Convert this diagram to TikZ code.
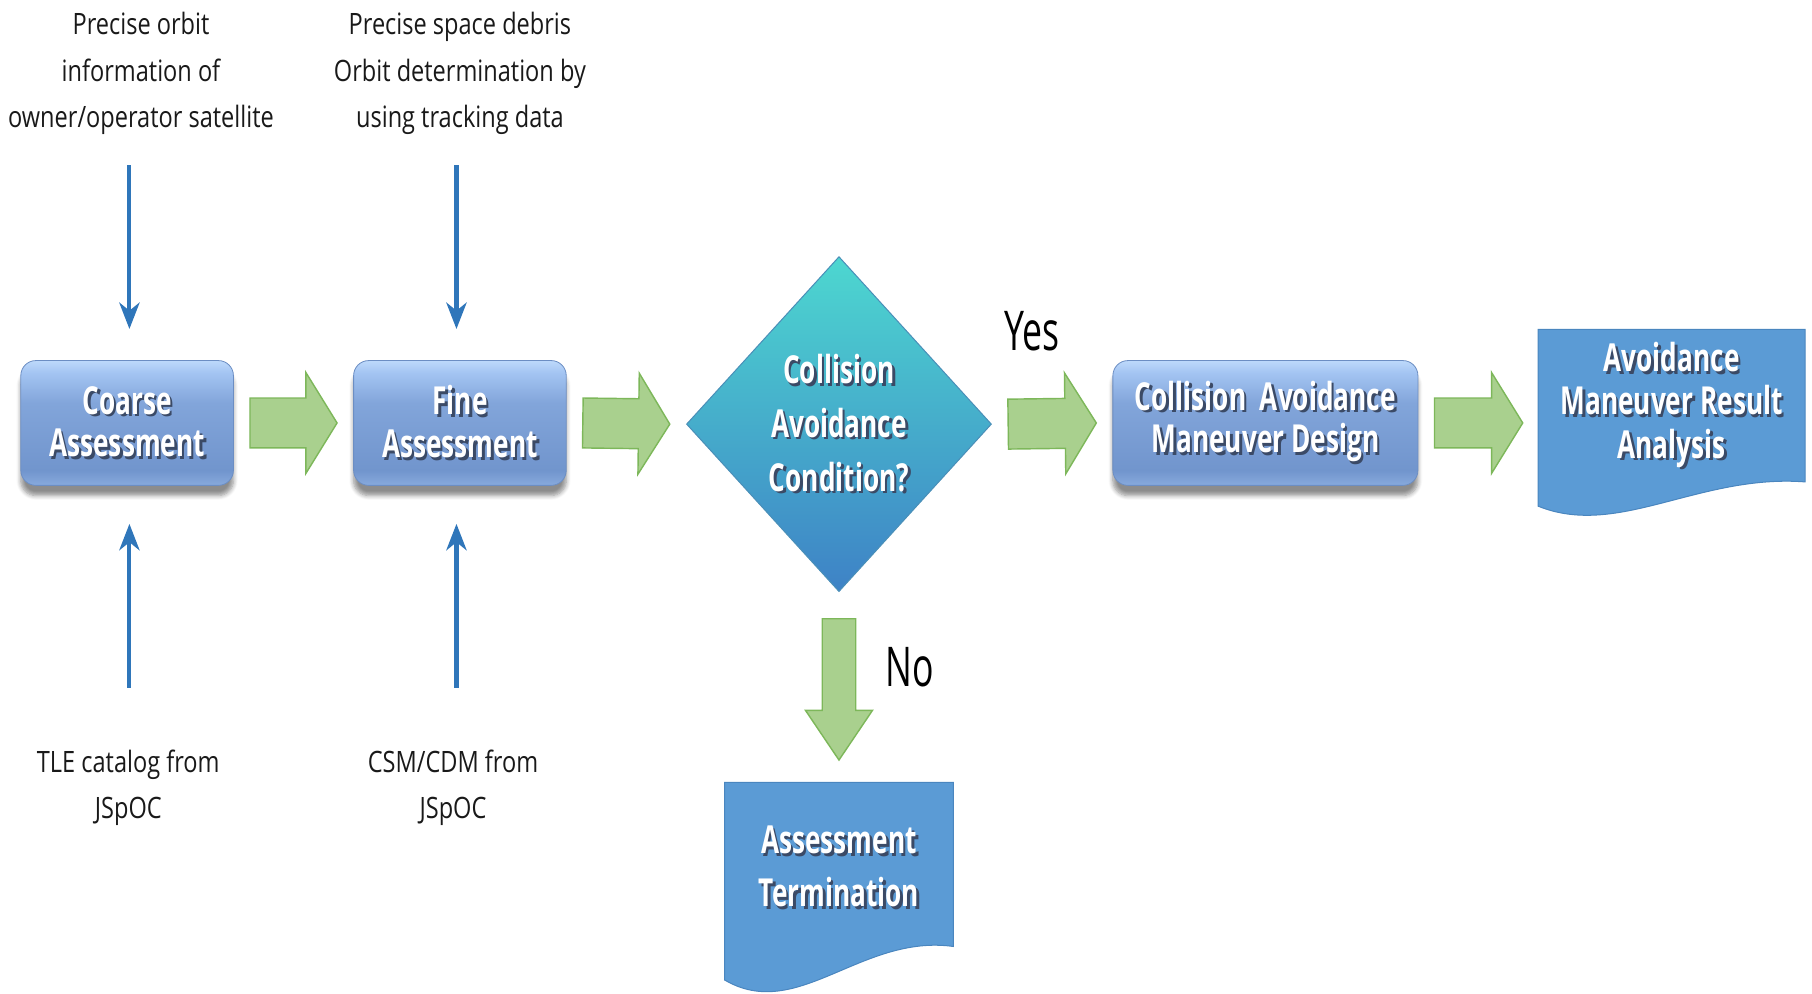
\documentclass[tikz,border=0pt]{standalone}
\usepackage{fontspec}
\setmainfont{Open Sans}[FakeStretch=0.8]
\newfontfamily\boxface{Open Sans}[FakeStretch=0.68]
\newfontfamily\answerface{Open Sans}[FakeStretch=0.65]
\usetikzlibrary{shapes.geometric,shadows.blur,calc,arrows.meta}

\definecolor{bvA}{HTML}{88AADD}
\definecolor{bvB}{HTML}{7195CD}
\definecolor{bvC}{HTML}{82A5DA}
\definecolor{bvD}{HTML}{A3C4F2}
\definecolor{bvE}{HTML}{BDD9FB}
\definecolor{boxedge}{HTML}{6C8EC3}
\definecolor{diamtop}{HTML}{4DD7D0}
\definecolor{diambot}{HTML}{3E82C6}
\definecolor{diamedge}{HTML}{4A8FB8}
\definecolor{docblue}{HTML}{5B9BD5}
\definecolor{docedge}{HTML}{4A86BF}
\definecolor{feedblue}{HTML}{2F76BA}
\definecolor{greenfill}{HTML}{A9D08E}
\definecolor{greenedge}{HTML}{7DB75A}
\definecolor{txtshadow}{HTML}{3B4A66}

\pgfdeclareverticalshading{bevel}{100bp}{color(0bp)=(bvA); color(25bp)=(bvA);
  color(31bp)=(bvB); color(58bp)=(bvC); color(70bp)=(bvD); color(75bp)=(bvE); color(100bp)=(bvE)}

% white text with a dark drop shadow
\newcommand\shtxt[1]{\leavevmode\rlap{\hspace{1.3pt}\raisebox{-1.3pt}{\textcolor{txtshadow}{#1}}}#1}

% block arrow: #1 start, #2 end, #3 body half width, #4 head half width, #5 head length
\newcommand\blockarrow[5]{%
  \coordinate (bas) at #1;
  \coordinate (bae) at #2;
  \coordinate (ban) at ($(bae)!#5!(bas)$);
  \filldraw[greenarrow]
    ($(bas)!#3!90:(bae)$) -- ($(ban)!#3!-90:(bas)$) -- ($(ban)!#4!-90:(bas)$) -- (bae)
    -- ($(ban)!#4!90:(bas)$) -- ($(ban)!#3!90:(bas)$) -- ($(bas)!#3!-90:(bae)$) -- cycle;}

\tikzset{
  procbox/.style={shape=rectangle, rounded corners=0.26cm, shading=bevel, draw=boxedge,
    line width=0.4pt, minimum width=3.68cm, minimum height=2.16cm, inner sep=0pt,
    align=center, text=white, font=\boxface\bfseries\fontsize{19}{21}\selectfont,
    blur shadow={shadow xshift=0pt, shadow yshift=-5pt, shadow opacity=45, shadow blur steps=6}},
  decision/.style={shape=diamond, minimum width=5.28cm, minimum height=5.8cm, inner sep=0pt,
    top color=diamtop, bottom color=diambot, draw=diamedge, line width=0.5pt,
    align=center, text=white, font=\boxface\bfseries\fontsize{19}{26.5}\selectfont},
  docshape/.style={fill=docblue, draw=docedge, line width=0.5pt},
  doctext/.style={shape=rectangle, inner sep=0pt, align=center, text=white,
    font=\boxface\bfseries\fontsize{19}{21.3}\selectfont},
  infotext/.style={inner sep=0pt, align=center, anchor=north, text=black!90,
    font=\fontsize{14.5}{22.8}\selectfont},
  answer/.style={inner sep=0pt, text=black, font=\answerface\fontsize{27}{30}\selectfont},
  feed/.style={draw=feedblue, line width=2pt, -{Stealth[length=13pt, width=10pt, inset=4pt]}},
  greenarrow/.style={fill=greenfill, draw=greenedge, line width=0.7pt, line join=miter}
}

\begin{document}
\begin{tikzpicture}[x=0.02cm, y=-0.02cm]
\useasboundingbox (0,0) rectangle (1568,860);

% input descriptions
\node[infotext] (orbitinfo) at (122,10.5) {Precise orbit\\information of\\owner/operator satellite};
\node[infotext] (debrisinfo) at (398,10.5) {Precise space debris\\Orbit determination by\\using tracking data};
\node[infotext] (tleinfo) at (111,648.6) {TLE catalog from\\JSpOC};
\node[infotext] (csminfo) at (392,648.6) {CSM/CDM from\\JSpOC};

% process boxes
\node[procbox] (coarse) at (110,366) {\shtxt{Coarse}\\\shtxt{Assessment}};
\node[procbox] (fine) at (398,366) {\shtxt{Fine}\\\shtxt{Assessment}};
\node[decision] (decide) at (726,367) {\shtxt{Collision}\\\shtxt{Avoidance}\\\shtxt{Condition?}};
\node[procbox, minimum width=5.28cm] (design) at (1095,366)
  {\shtxt{Collision\ \ Avoidance}\\\shtxt{Maneuver Design}};

% document shapes
\filldraw[docshape] (1331,285) -- (1562,285) -- (1562,417)
  .. controls (1470,410) and (1400,466) .. (1331,438) -- cycle;
\node[doctext, minimum width=4.62cm, minimum height=2.5cm] (analysis) at (1446.5,351.5)
  {\shtxt{Avoidance}\\\shtxt{Maneuver Result}\\\shtxt{Analysis}};
\filldraw[docshape] (627,677) -- (825,677) -- (825,819)
  .. controls (745,808) and (690,885) .. (627,848) -- cycle;
\node[doctext, minimum width=3.96cm, minimum height=2.84cm,
  font=\boxface\bfseries\fontsize{19}{26.2}\selectfont] (term) at (726,751)
  {\shtxt{Assessment}\\\shtxt{Termination}};

% data feeds
\draw[feed, shorten <=0.52cm, shorten >=0.54cm] ([xshift=0.04cm]orbitinfo.south -| coarse.north) -- ([xshift=0.04cm]coarse.north);
\draw[feed, shorten <=0.52cm, shorten >=0.54cm] ([xshift=-0.06cm]debrisinfo.south -| fine.north) -- ([xshift=-0.06cm]fine.north);
\draw[feed, shorten <=1.07cm, shorten >=0.66cm] ([xshift=0.04cm]tleinfo.north -| coarse.south) -- ([xshift=0.04cm]coarse.south);
\draw[feed, shorten <=1.07cm, shorten >=0.66cm] ([xshift=-0.06cm]csminfo.north -| fine.south) -- ([xshift=-0.06cm]fine.south);

% flow arrows
\blockarrow{([xshift=0.28cm]coarse.east)}{([xshift=-0.28cm]fine.west)}{0.432cm}{0.874cm}{0.54cm}
\blockarrow{([xshift=0.28cm]fine.east)}{([xshift=-0.28cm]decide.west)}{0.432cm}{0.874cm}{0.54cm}
\blockarrow{([xshift=0.28cm]decide.east)}{([xshift=-0.28cm]design.west)}{0.432cm}{0.874cm}{0.54cm}
\blockarrow{([xshift=0.28cm]design.east)}{([xshift=-0.26cm]design.east -| analysis.west)}{0.432cm}{0.874cm}{0.54cm}
\blockarrow{([yshift=-0.46cm]decide.south)}{([yshift=0.44cm]term.north)}{0.29cm}{0.58cm}{0.86cm}

\node[answer] (yes) at (893,287) {Yes};
\node[answer] (no) at (787,577) {No};
\end{tikzpicture}
\end{document}
